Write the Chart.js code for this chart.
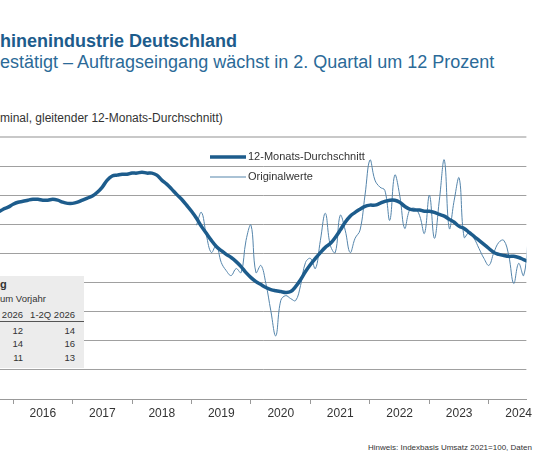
<!DOCTYPE html>
<html><head><meta charset="utf-8">
<script src="https://cdn.jsdelivr.net/npm/chart.js@4"></script>
<style>
body{margin:0;width:534px;height:462px;overflow:hidden;background:#fff;font-family:"Liberation Sans",Arial,sans-serif;position:relative}
.t{position:absolute;white-space:nowrap}
#box{position:absolute;left:0;top:276px;width:84px;height:92px;background:#ececec;z-index:2;font-size:9.5px;color:#333}
#box div{position:absolute;white-space:nowrap}
</style></head><body>
<div class="t" style="left:0;top:31px;font-size:18px;font-weight:bold;color:#1d5c8c">hinenindustrie Deutschland</div>
<div class="t" style="left:0;top:52px;font-size:18px;color:#2b6a98">estätigt – Auftragseingang wächst in 2. Quartal um 12 Prozent</div>
<div class="t" style="left:0;top:111px;font-size:12px;color:#333">minal, gleitender 12-Monats-Durchschnitt)</div>
<div class="t" style="left:368px;top:443px;font-size:8px;color:#333">Hinweis: Indexbasis Umsatz 2021=100, Daten</div>
<div id="box">
<div style="left:0;top:2px;font-weight:bold;font-size:11px">g</div>
<div style="left:0;top:17px">um Vorjahr</div>
<div style="right:61px;top:33px">h 2026</div>
<div style="right:9px;top:33px">1-2Q 2026</div>
<div style="left:0;top:45px;width:84px;border-top:1px solid #555"></div>
<div style="right:61px;top:49px">12</div><div style="right:9px;top:49px">14</div>
<div style="right:61px;top:62px">14</div><div style="right:9px;top:62px">16</div>
<div style="right:61px;top:76px">11</div><div style="right:9px;top:76px">13</div>
</div>
<div style="position:absolute;left:0;top:136px;width:534px;height:292px"><canvas id="c"></canvas></div>
<script>
const startYear = 2015.75; // first month of series
const avgValues = [124.1,125.2,125.9,126.9,127.6,127.9,128.3,128.6,128.6,128.3,128.3,128.6,128.3,127.6,127.2,127.2,127.6,128.3,129.0,129.7,131.0,132.8,135.2,136.6,136.9,137.2,137.2,137.6,137.6,137.9,137.6,137.6,136.9,135.2,133.8,132.1,130.3,128.6,126.6,124.5,122.1,119.3,116.9,114.5,112.4,111.0,109.7,108.6,107.2,105.5,103.4,101.7,100.3,99.3,98.3,97.6,97.2,96.9,96.6,96.9,98.6,101.0,103.8,106.2,108.3,110.3,112.1,113.4,115.5,118.0,120.7,122.8,124.1,125.2,126.2,126.6,126.6,127.2,127.9,128.3,128.3,127.6,126.2,125.2,124.9,124.9,124.5,124.5,124.1,123.4,122.8,121.7,120.7,119.3,118.6,117.2,115.9,114.5,113.1,111.7,110.3,109.7,109.3,109.0,109.0,108.6,107.9,107.2];
const origStartIndex = 40;
const origValues = [119.7,124.1,116.2,110.3,112.8,106.9,104.1,102.4,104.8,103.4,114.5,119.7,103.4,105.9,99.7,90.3,81.7,93.8,95.5,94.5,93.8,99.0,106.9,108.3,104.8,114.5,123.8,112.8,110.3,123.1,118.0,110.3,115.2,118.0,130.0,142.1,135.2,132.8,131.7,121.4,136.9,130.0,118.6,124.9,125.5,123.1,116.9,130.0,115.2,128.3,142.1,118.6,128.3,135.9,115.5,117.2,115.2,111.7,108.3,105.9,110.3,113.8,114.5,109.3,99.7,106.6,102.4,116.2];
const yearLabels = ['2016','2017','2018','2019','2020','2021','2022','2023','2024'];
const firstYear = 2016;

const avgData = avgValues.map((v,i)=>({x:startYear+i/12,y:v}));
const origData = origValues.map((v,i)=>({x:startYear+(origStartIndex+i)/12,y:v}));
const blue='#1d5c8c';
new Chart(document.getElementById('c'),{
  type:'line',
  data:{datasets:[
    {label:'12-Monats-Durchschnitt',data:avgData,borderColor:blue,borderWidth:3.5,pointRadius:0,tension:0.4,order:1},
    {label:'Originalwerte',data:origData,borderColor:'#5585ab',borderWidth:1,pointRadius:0,tension:0.4,order:2}
  ]},
  options:{responsive:true,maintainAspectRatio:false,animation:false,
    layout:{padding:{top:1,left:0,right:0,bottom:0}},
    plugins:{legend:{display:false},tooltip:{enabled:false}},
    scales:{
      x:{type:'linear',min:2015.78,max:2024.63,
        afterBuildTicks:s=>{const t=[];for(let k=0;k<yearLabels.length;k++){t.push({value:firstYear+k});t.push({value:firstYear+k+0.5});}s.ticks=t;},
        afterFit:s=>{s.height=29;},
        grid:{drawOnChartArea:false,drawTicks:true,tickLength:5,tickColor:c=>(c.tick&&c.tick.value%1!==0)?'rgba(0,0,0,0)':'#999'},
        border:{color:'#999'},
        ticks:{autoSkip:false,maxRotation:0,color:'#333',font:{size:12,family:'Liberation Sans'},padding:2,
          callback:v=>{const k=Math.floor(v)-firstYear;return (v%1!==0)?yearLabels[k]:'';}}},
      y:{min:60,max:150,
        afterBuildTicks:s=>{const t=[];for(let v=60;v<=150;v+=10)t.push({value:v});s.ticks=t;},
        afterFit:s=>{s.width=0;},
        ticks:{display:false},border:{display:false},
        grid:{color:c=>c.tick.value===150?'#c8c8c8':'#a0a0a0',lineWidth:c=>c.tick.value===150?2:1,drawTicks:false}}
    }
  },
  plugins:[{id:'lg',afterDraw(ch){const x=ch.ctx;x.save();
    x.strokeStyle=blue;x.lineWidth=3.5;x.beginPath();x.moveTo(210,21);x.lineTo(246,21);x.stroke();
    x.strokeStyle='#5585ab';x.lineWidth=1;x.beginPath();x.moveTo(210,41);x.lineTo(246,41);x.stroke();
    x.fillStyle='#333';x.font='11px "Liberation Sans"';x.textBaseline='middle';
    x.fillText(ch.data.datasets[0].label,248,21);x.fillText(ch.data.datasets[1].label,248,41);x.restore();}}]
});
</script></body></html>
